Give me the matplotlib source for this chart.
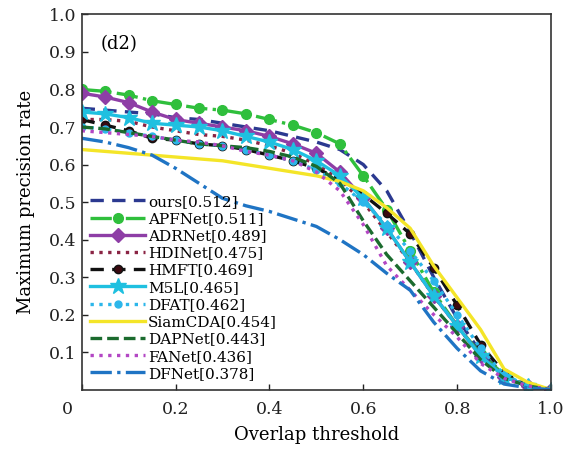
import numpy as np
import matplotlib
matplotlib.use("Agg")
import matplotlib.pyplot as plt
import matplotlib.transforms as mtransforms

plt.rcParams["font.family"] = ["DejaVu Serif"]

# overlap thresholds
thresholds = [0.0, 0.05, 0.1, 0.15, 0.2, 0.25, 0.3, 0.35, 0.4, 0.45, 0.5,
              0.55, 0.6, 0.65, 0.7, 0.75, 0.8, 0.85, 0.9, 0.95, 1.0]

ours = [0.75, 0.745, 0.74, 0.735, 0.725, 0.72, 0.71, 0.70, 0.69, 0.675, 0.66,
        0.64, 0.60, 0.53, 0.42, 0.30, 0.19, 0.10, 0.04, 0.01, 0.0]
apfnet = [0.80, 0.795, 0.785, 0.77, 0.76, 0.75, 0.745, 0.735, 0.72, 0.705, 0.685,
          0.655, 0.57, 0.48, 0.37, 0.26, 0.17, 0.095, 0.04, 0.01, 0.0]
adrnet = [0.79, 0.78, 0.765, 0.74, 0.72, 0.71, 0.70, 0.69, 0.675, 0.655, 0.63,
          0.58, 0.51, 0.43, 0.34, 0.25, 0.17, 0.09, 0.035, 0.01, 0.0]
hdinet = [0.72, 0.72, 0.715, 0.70, 0.69, 0.68, 0.675, 0.665, 0.65, 0.63, 0.60,
          0.56, 0.50, 0.42, 0.34, 0.25, 0.17, 0.09, 0.035, 0.01, 0.0]
hmft = [0.72, 0.705, 0.69, 0.67, 0.665, 0.655, 0.65, 0.64, 0.625, 0.61, 0.59,
        0.56, 0.52, 0.47, 0.415, 0.325, 0.225, 0.12, 0.045, 0.01, 0.0]
m5l = [0.74, 0.735, 0.725, 0.71, 0.705, 0.70, 0.69, 0.675, 0.66, 0.64, 0.61,
       0.57, 0.51, 0.43, 0.34, 0.25, 0.17, 0.09, 0.035, 0.01, 0.0]
dfat = [0.70, 0.695, 0.685, 0.675, 0.665, 0.655, 0.65, 0.64, 0.625, 0.61, 0.585,
        0.55, 0.50, 0.44, 0.37, 0.29, 0.20, 0.11, 0.04, 0.01, 0.0]
siamcda = [0.64, 0.635, 0.63, 0.625, 0.62, 0.615, 0.61, 0.60, 0.59, 0.58, 0.57,
           0.555, 0.53, 0.485, 0.43, 0.33, 0.245, 0.16, 0.055, 0.02, 0.0]
dapnet = [0.70, 0.695, 0.685, 0.675, 0.665, 0.655, 0.65, 0.645, 0.635, 0.62, 0.595,
          0.55, 0.45, 0.36, 0.29, 0.22, 0.15, 0.08, 0.03, 0.01, 0.0]
fanet = [0.69, 0.685, 0.68, 0.675, 0.665, 0.66, 0.65, 0.635, 0.625, 0.61, 0.58,
         0.53, 0.44, 0.33, 0.265, 0.20, 0.14, 0.07, 0.03, 0.01, 0.0]
dfnet = [0.67, 0.66, 0.645, 0.625, 0.59, 0.55, 0.51, 0.49, 0.475, 0.455, 0.435,
         0.40, 0.36, 0.31, 0.265, 0.18, 0.11, 0.05, 0.015, 0.005, 0.0]

labels = ["ours[0.512]", "APFNet[0.511]", "ADRNet[0.489]", "HDINet[0.475]",
          "HMFT[0.469]", "M5L[0.465]", "DFAT[0.462]", "SiamCDA[0.454]",
          "DAPNet[0.443]", "FANet[0.436]", "DFNet[0.378]"]
series = [ours, apfnet, adrnet, hdinet, hmft, m5l, dfat, siamcda, dapnet, fanet, dfnet]

styles = [
    dict(color="#2b3990", ls=(0, (4, 2.5)), lw=2.4),
    dict(color="#2fbf3c", ls="-.", lw=2.4, marker="o", ms=7),
    dict(color="#8e3ea6", ls="-", lw=2.4, marker="D", ms=7),
    dict(color="#8a2444", ls=":", lw=2.4),
    dict(color="#111111", ls=(0, (4, 2.5)), lw=2.4, marker="o", ms=6,
         mfc="#3b0a10", mec="#111111"),
    dict(color="#1fc0e0", ls="-", lw=2.4, marker="*", ms=12),
    dict(color="#2cb6ea", ls=":", lw=2.4, marker="o", ms=5),
    dict(color="#f4e528", ls="-", lw=2.4),
    dict(color="#1b6b2e", ls=(0, (3.5, 1.5)), lw=2.4),
    dict(color="#b347c4", ls=":", lw=2.4),
    dict(color="#1f74c4", ls="-.", lw=2.4),
]

fig = plt.figure(figsize=(5.71, 4.51), dpi=100)
ax = fig.add_axes([0.143, 0.136, 0.822, 0.832])

for vals, lab, st in zip(series, labels, styles):
    ax.plot(thresholds, vals, label=lab, **st)

ax.set_xlim(0, 1)
ax.set_ylim(0, 1)
ax.set_xticks([0, 0.2, 0.4, 0.6, 0.8, 1.0])
ax.set_xticklabels(["0", "0.2", "0.4", "0.6", "0.8", "1.0"])
ax.set_yticks(np.round(np.arange(0.1, 1.01, 0.1), 1))
ax.set_yticklabels([f"{v:.1f}" for v in np.arange(0.1, 1.01, 0.1)])
ax.tick_params(direction="in", labelsize=12.5, length=4, width=1, colors="#222222")
ax.tick_params(axis="x", pad=8)
for sp in ax.spines.values():
    sp.set_linewidth(1.2)
    sp.set_color("#333333")

# nudge the "0" label left like the original
lab0 = ax.get_xticklabels()[0]
lab0.set_transform(lab0.get_transform() + mtransforms.ScaledTranslation(-0.14, 0, fig.dpi_scale_trans))

ax.set_xlabel("Overlap threshold", fontsize=13, labelpad=6)
ax.set_ylabel("Maximum precision rate", fontsize=13, labelpad=10)
ax.text(0.08, 0.92, "(d2)", transform=ax.transAxes, fontsize=13, ha="center", va="center")

ax.legend(loc="lower left", bbox_to_anchor=(-0.005, -0.005), frameon=False, fontsize=11,
          handlelength=3.6, handletextpad=0.2, labelspacing=0.21, borderpad=0.2,
          markerscale=1.0)

fig.savefig("out.png", dpi=100)
